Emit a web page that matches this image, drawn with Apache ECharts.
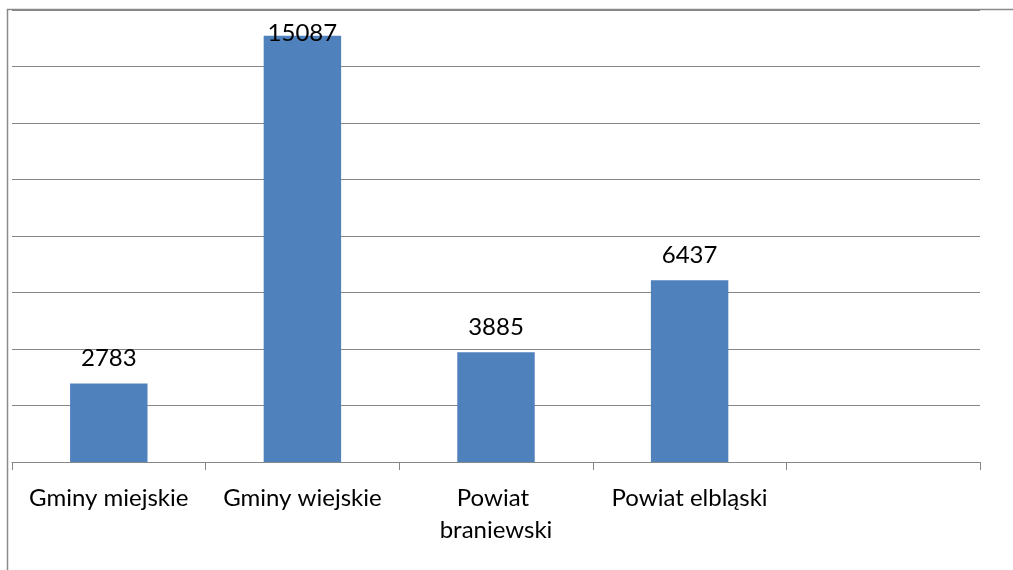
<!DOCTYPE html>
<html><head><meta charset="utf-8">
<script src="https://cdn.jsdelivr.net/npm/echarts@6/dist/echarts.min.js"></script>
<style>html,body{margin:0;padding:0;background:#fff}#c{width:1013px;height:570px}</style>
</head><body><div id="c"></div>
<script>
const categories = ['Gminy miejskie', 'Gminy wiejskie', 'Powiat braniewski', 'Powiat elbląski', ''];
const values = [2783, 15087, 3885, 6437, null];
const yMin = 0, yMax = 16000, yStep = 2000;

const chart = echarts.init(document.getElementById('c'), null, {renderer: 'canvas'});
const FONT = 'Lato';
chart.setOption({
  animation: false,
  graphic: [{
    type: 'polyline', silent: true,
    shape: {points: [[7.5, 570], [7.5, 9.5], [1013, 9.5]]},
    style: {stroke: '#8a8a8a', lineWidth: 1.5, fill: null}
  }],
  grid: {left: 12, right: 33, top: 10, bottom: 108, containLabel: false},
  xAxis: {
    type: 'category', data: categories,
    axisLine: {lineStyle: {color: '#868686', width: 1}},
    axisTick: {show: true, length: 8, lineStyle: {color: '#868686'}},
    axisLabel: {color: '#000', fontFamily: FONT, fontSize: 24, margin: 20, lineHeight: 32,
      width: 180, overflow: 'break', interval: 0}
  },
  yAxis: {
    type: 'value', min: yMin, max: yMax, interval: yStep,
    axisLabel: {show: false}, axisLine: {show: false}, axisTick: {show: false},
    splitLine: {lineStyle: {color: '#868686', width: 1}}
  },
  series: [{
    type: 'bar', data: values.map((v, i) => i === 1 ? {value: v, label: {offset: [0, 22]}} : v),
    barWidth: '40%',
    itemStyle: {color: '#4f81bd'},
    label: {show: true, position: 'top', distance: 13, color: '#000', fontFamily: FONT, fontSize: 24}
  }]
});
</script></body></html>
